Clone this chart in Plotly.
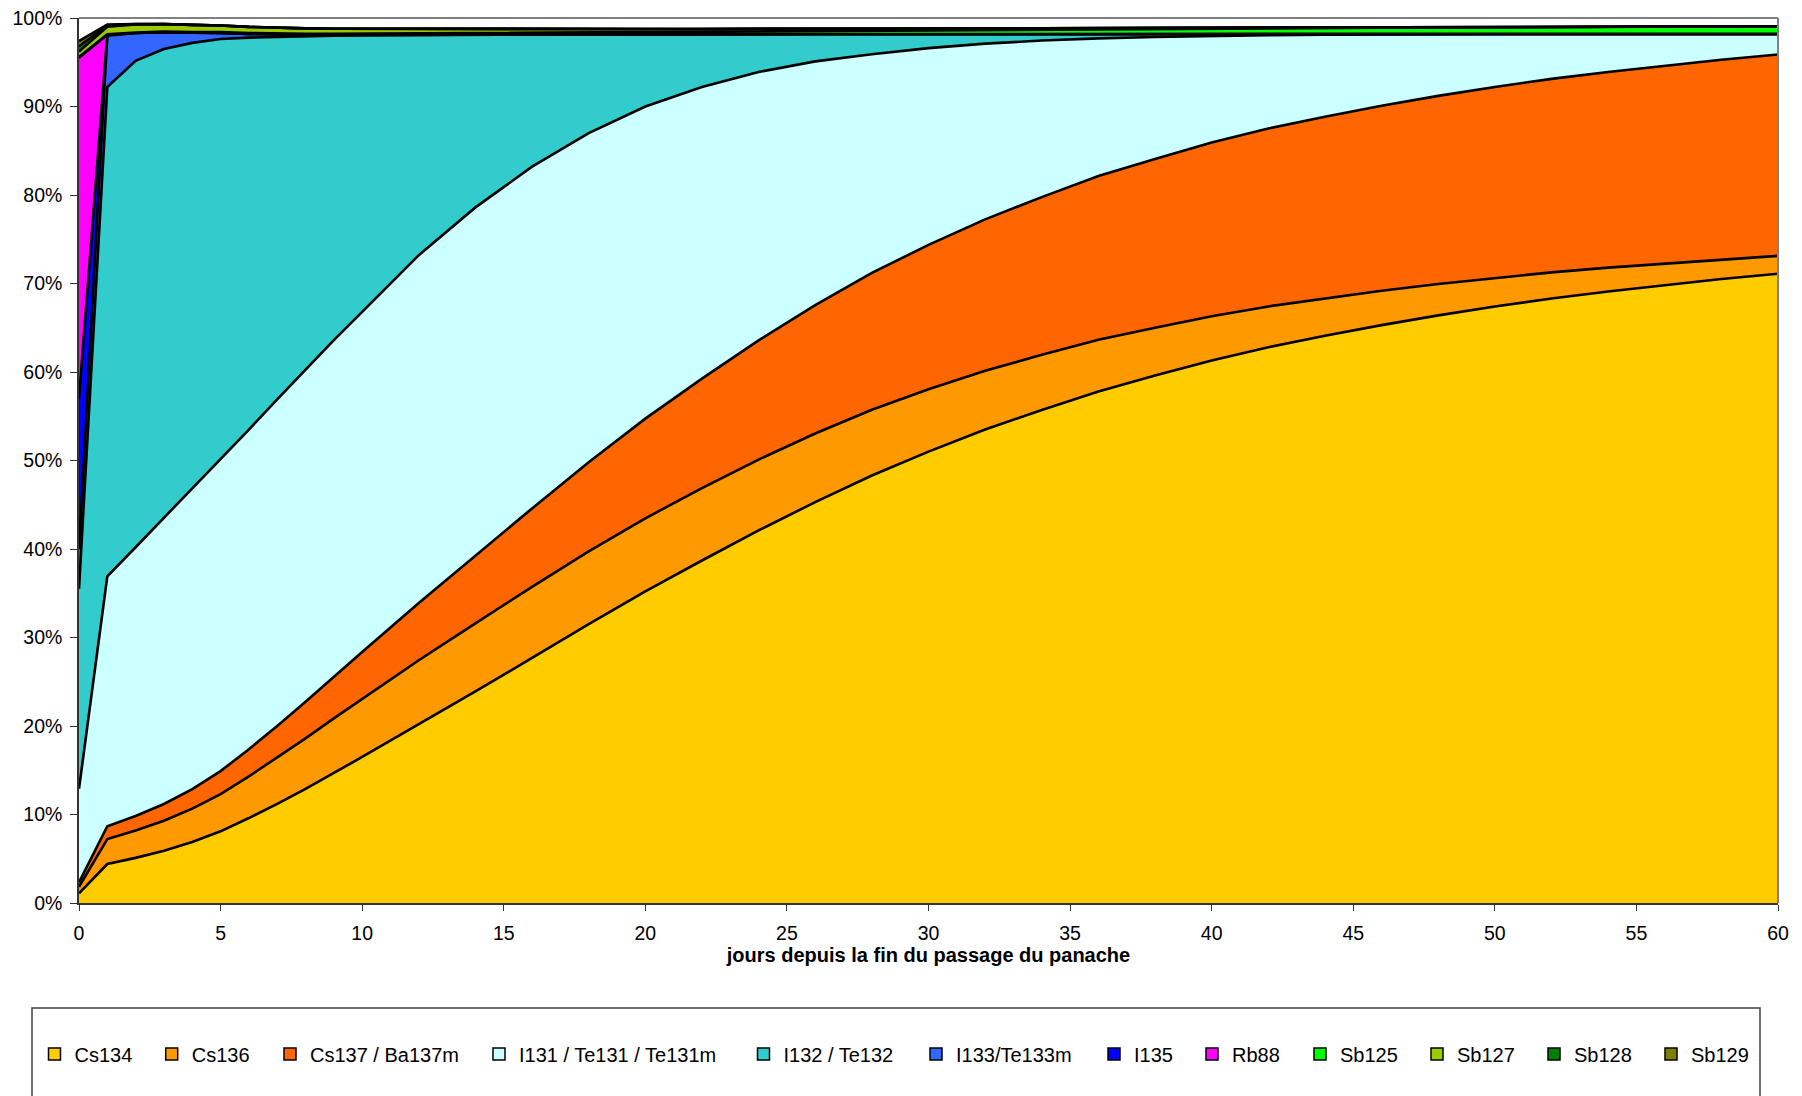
import plotly.graph_objects as go

# days after end of plume passage
days = [0, 1, 2, 3, 4, 5, 6, 7, 8, 9, 10, 12, 14, 16, 18, 20, 22, 24, 26, 28, 30,
        32, 34, 36, 38, 40, 42, 44, 46, 48, 50, 52, 54, 56, 58, 60]

# share of total activity (%) for each radionuclide group
cs134 = [1.1, 4.4, 5.1, 5.9, 6.9, 8.1, 9.6, 11.2, 12.9, 14.7, 16.5, 20.2, 23.9, 27.7, 31.5, 35.2, 38.7, 42.1,
         45.3, 48.3, 51.0, 53.5, 55.7, 57.8, 59.6, 61.3, 62.8, 64.1, 65.3, 66.4, 67.4, 68.3, 69.1, 69.8, 70.5, 71.1]
cs136 = [0.74, 2.82, 3.10, 3.40, 3.77, 4.20, 4.71, 5.22, 5.70, 6.16, 6.57, 7.23, 7.70, 8.03, 8.22, 8.27, 8.17, 8.0,
         7.75, 7.44, 7.04, 6.63, 6.24, 5.84, 5.41, 5.0, 4.61, 4.23, 3.88, 3.55, 3.24, 2.96, 2.69, 2.44, 2.22, 2.02]
cs137 = [0.5, 1.45, 1.63, 1.89, 2.2, 2.6, 3.07, 3.58, 4.13, 4.7, 5.28, 6.46, 7.65, 8.86, 10.08, 11.26, 12.38, 13.47,
         14.5, 15.46, 16.32, 17.12, 17.82, 18.5, 19.07, 19.62, 20.1, 20.51, 20.9, 21.25, 21.57, 21.86, 22.11, 22.34, 22.56, 22.75]
i131 = [10.56, 28.23, 30.37, 32.31, 33.93, 35.2, 36.12, 36.9, 37.57, 38.04, 38.45, 39.31, 39.35, 38.61, 37.2, 35.27,
        32.95, 30.33, 27.55, 24.7, 22.24, 19.85, 17.69, 15.56, 13.77, 12.06, 10.54, 9.26, 8.07, 6.98, 5.99, 5.08,
        4.3, 3.62, 2.92, 2.33]
i132 = [22.6, 55.3, 54.97, 52.99, 50.39, 47.52, 44.28, 40.98, 37.65, 34.4, 31.25, 24.9, 19.52, 14.94, 11.15, 8.16,
        5.97, 4.27, 3.08, 2.28, 1.59, 1.09, 0.75, 0.5, 0.35, 0.22, 0.15, 0.1, 0.05, 0.02, 0.0, 0.0, 0.0, 0.0, 0.0, 0.0]
i133 = [4.5, 5.8, 3.13, 1.9, 1.15, 0.7, 0.42, 0.25, 0.15, 0.09, 0.05, 0.02, 0.01, 0.01, 0.01, 0.01, 0.01, 0.01,
        0.01, 0.01, 0.01, 0.01, 0.01, 0.01, 0.01, 0.01, 0.01, 0.01, 0.01, 0.01, 0.01, 0.01, 0.01, 0.01, 0.01, 0.01]
i135 = [17.0, 0.1, 0.01, 0, 0, 0, 0, 0, 0, 0, 0, 0, 0, 0, 0, 0, 0, 0, 0, 0, 0, 0, 0, 0, 0, 0, 0, 0, 0, 0, 0, 0, 0, 0, 0, 0]
rb88 = [38.5, 0.02, 0, 0, 0, 0, 0, 0, 0, 0, 0, 0, 0, 0, 0, 0, 0, 0, 0, 0, 0, 0, 0, 0, 0, 0, 0, 0, 0, 0, 0, 0, 0, 0, 0, 0]
sb125 = [0.1, 0.05, 0.06, 0.07, 0.08, 0.09, 0.1, 0.1, 0.11, 0.12, 0.13, 0.15, 0.17, 0.2, 0.23, 0.26, 0.3, 0.33,
         0.37, 0.4, 0.44, 0.47, 0.51, 0.54, 0.57, 0.6, 0.63, 0.66, 0.69, 0.71, 0.74, 0.76, 0.78, 0.8, 0.82, 0.85]
sb127 = [0.6, 0.85, 0.9, 0.85, 0.8, 0.75, 0.7, 0.66, 0.62, 0.58, 0.55, 0.5, 0.45, 0.4, 0.36, 0.32, 0.28, 0.25,
         0.22, 0.19, 0.17, 0.15, 0.13, 0.11, 0.09, 0.08, 0.07, 0.06, 0.05, 0.04, 0.03, 0.03, 0.02, 0.02, 0.01, 0.01]
sb128 = [0.6, 0.15, 0.04, 0.01, 0, 0, 0, 0, 0, 0, 0, 0, 0, 0, 0, 0, 0, 0, 0, 0, 0, 0, 0, 0, 0, 0, 0, 0, 0, 0, 0, 0, 0, 0, 0, 0]
sb129 = [0.6, 0.1, 0.01, 0, 0, 0, 0, 0, 0, 0, 0, 0, 0, 0, 0, 0, 0, 0, 0, 0, 0, 0, 0, 0, 0, 0, 0, 0, 0, 0, 0, 0, 0, 0, 0, 0]

series_names = ["Cs134", "Cs136", "Cs137 / Ba137m", "I131 / Te131 / Te131m", "I132 / Te132",
                "I133/Te133m", "I135", "Rb88", "Sb125", "Sb127", "Sb128", "Sb129"]
series_values = [cs134, cs136, cs137, i131, i132, i133, i135, rb88, sb125, sb127, sb128, sb129]
series_colors = ["#FFCC00", "#FF9900", "#FF6600", "#CCFFFF", "#33CCCC", "#3366FF",
                 "#0000FF", "#FF00FF", "#00FF00", "#99CC00", "#008000", "#808000"]

x_ticks = list(range(0, 61, 5))
y_ticks = list(range(0, 101, 10))
y_tick_text = [f"{v}%" for v in y_ticks]

FONT = "Liberation Sans, Arial, sans-serif"
FS = 19.5

# page geometry (the page body adds an 8px offset)
W, H = 1802, 1096
OFF = 8
L, R, T, B = 79, 1778, 17.5, 903          # plot area in page pixels
pw, ph = R - L, B - T

def px_x(p):
    return (p - L) / pw

def px_y(p):
    return (B - p) / ph

# legend swatch left edges (page pixels)
legend_pos = [57.5, 174.7, 293, 502, 766.5, 939, 1117, 1215, 1323, 1440, 1557, 1674]

fig = go.Figure()
for name, vals, col in zip(series_names, series_values, series_colors):
    fig.add_trace(go.Scatter(
        x=days, y=vals, name=name, stackgroup="one", mode="lines",
        line=dict(color="black", width=2.6), fillcolor=col, showlegend=False,
        hoverinfo="x+y+name"))

legends = {}
for i, (name, col, lp) in enumerate(zip(series_names, series_colors, legend_pos)):
    key = "legend" if i == 0 else f"legend{i + 1}"
    fig.add_trace(go.Scatter(
        x=[None], y=[None], name=name, mode="markers", legend=key,
        marker=dict(symbol="square", size=12, color=col, line=dict(color="black", width=1.5)),
        showlegend=True))
    legends[key] = dict(
        orientation="h", xref="container", yref="container",
        x=(lp - 23 - OFF) / W, xanchor="left", y=1 - (1054 - OFF) / H, yanchor="middle",
        font=dict(family=FONT, size=20, color="black"),
        itemwidth=30, bgcolor="rgba(0,0,0,0)", borderwidth=0,
    )

fig.update_layout(
    width=W, height=H,
    margin=dict(l=L - OFF, r=W - R + OFF, t=T - OFF, b=H - B + OFF, pad=0),
    paper_bgcolor="white", plot_bgcolor="white",
    font=dict(family=FONT, size=FS, color="black"),
    showlegend=True,
    xaxis=dict(
        range=[0, 60], tickvals=x_ticks, ticks="outside", ticklen=6, tickcolor="#333333",
        showline=True, linecolor="#333333", linewidth=1.5, showgrid=False, zeroline=False,
        ticklabelstandoff=6, automargin=False, ticklabeloverflow="allow",
        title=dict(text="<b>jours depuis la fin du passage du panache</b>",
                   font=dict(family=FONT, size=20, color="black"), standoff=2),
    ),
    yaxis=dict(
        range=[0, 100], tickvals=y_ticks, ticktext=y_tick_text, ticks="outside", ticklen=7,
        tickcolor="#333333", showline=True, linecolor="#333333", linewidth=1.5,
        showgrid=False, zeroline=False, ticklabelstandoff=4, automargin=False,
        ticklabeloverflow="allow",
    ),
    shapes=[
        dict(type="line", xref="paper", yref="paper", x0=0, x1=1, y0=1, y1=1,
             line=dict(color="#808080", width=2), layer="above"),
        dict(type="line", xref="paper", yref="paper", x0=1, x1=1, y0=0, y1=1,
             line=dict(color="#808080", width=2), layer="above"),
        dict(type="rect", xref="paper", yref="paper",
             x0=px_x(32), x1=px_x(1760), y0=px_y(1115), y1=px_y(1008),
             line=dict(color="#404040", width=1.5), fillcolor="rgba(0,0,0,0)", layer="above"),
    ],
    **legends,
)

fig.write_html("out.html")
